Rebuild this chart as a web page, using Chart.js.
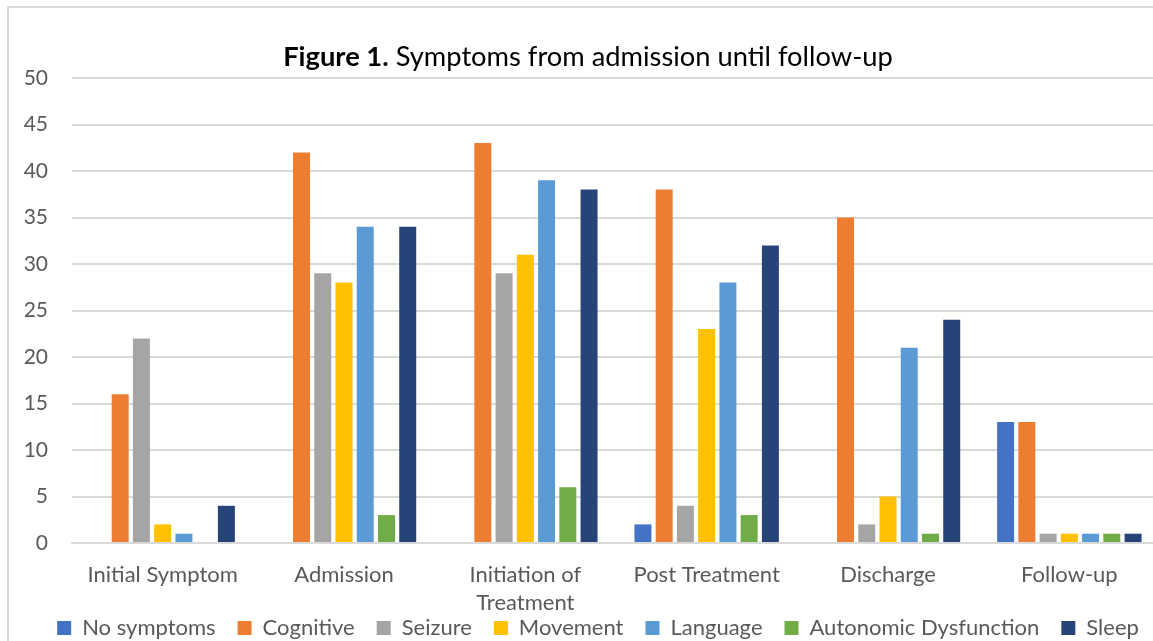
<!DOCTYPE html>
<html>
<head>
<meta charset="utf-8">
<script src="https://cdn.jsdelivr.net/npm/chart.js@4.4.1/dist/chart.umd.min.js"></script>
<style>
  html, body { margin: 0; padding: 0; background: #fff; width: 1153px; height: 641px; overflow: hidden; }
  #frame { position: absolute; left: 7px; top: 6px; width: 1200px; height: 700px; border: 2px solid #d9d9d9; box-sizing: border-box; }
  #wrap { position: absolute; left: -20px; top: 0; width: 1180px; height: 641px; }
</style>
</head>
<body>
<div id="frame"></div>
<div id="wrap"><canvas id="chart" width="1180" height="641"></canvas></div>
<script>
// Stages of care along the x axis
const categories = ["Initial Symptom", "Admission", ["Initiation of", "Treatment"], "Post Treatment", "Discharge", "Follow-up"];

// Number of patients with each symptom group at every stage
const noSymptoms = [0, 0, 0, 2, 0, 13];
const cognitive  = [16, 42, 43, 38, 35, 13];
const seizure    = [22, 29, 29, 4, 2, 1];
const movement   = [2, 28, 31, 23, 5, 1];
const language   = [1, 34, 39, 28, 21, 1];
const autonomic  = [0, 3, 6, 3, 1, 1];
const sleep      = [4, 34, 38, 32, 24, 1];

const seriesNames  = ["No symptoms", "Cognitive", "Seizure", "Movement", "Language", "Autonomic Dysfunction", "Sleep"];
const seriesValues = [noSymptoms, cognitive, seizure, movement, language, autonomic, sleep];
const seriesColors = ["#4472C4", "#ED7D31", "#A5A5A5", "#FFC000", "#5B9BD5", "#70AD47", "#264478"];

const yMin = 0, yMax = 50, yStep = 5;

const titleBold = "Figure 1.";
const titleRest = " Symptoms from admission until follow-up";

const FONT = "Lato, 'Open Sans', sans-serif";
const LEGEND_PAD = 22;
const LEGEND_FONT = 22;

// Title with a bold lead-in followed by regular text
const mixedTitle = {
  id: "mixedTitle",
  afterDraw(chart) {
    const ctx = chart.ctx;
    ctx.save();
    ctx.textBaseline = "middle";
    ctx.textAlign = "left";
    ctx.fillStyle = "#000";
    ctx.font = "bold 27.3px " + FONT;
    const wb = ctx.measureText(titleBold).width;
    ctx.font = "27.3px " + FONT;
    const wr = ctx.measureText(titleRest).width;
    const cx = 608, cy = 57;
    const x = cx - (wb + wr) / 2;
    ctx.font = "bold 27.3px " + FONT;
    ctx.fillText(titleBold, x, cy);
    ctx.font = "27.3px " + FONT;
    ctx.fillText(titleRest, x + wb, cy);
    ctx.restore();
  }
};

// Pull the legend row up under the axis labels and centre it on the frame
const legendPlacement = {
  id: "legendPlacement",
  afterLayout(chart) {
    const lg = chart.legend;
    const h = lg.bottom - lg.top;
    const top = 628 - LEGEND_PAD - LEGEND_FONT / 2;
    lg.top = top;
    lg.bottom = top + h;
    lg.left += 28;
    lg.right += 28;
  }
};

new Chart(document.getElementById("chart"), {
  type: "bar",
  data: {
    labels: categories,
    datasets: seriesNames.map((name, i) => ({
      label: name,
      data: seriesValues[i],
      backgroundColor: seriesColors[i],
      borderWidth: 0,
      categoryPercentage: 0.82,
      barPercentage: 0.8
    }))
  },
  options: {
    responsive: false,
    animation: false,
    devicePixelRatio: 1,
    layout: { padding: { top: 78, left: 0, right: 0, bottom: -36 } },
    plugins: {
      title: { display: false },
      tooltip: { enabled: false },
      legend: {
        position: "bottom",
        labels: {
          boxWidth: 14,
          boxHeight: 14,
          padding: LEGEND_PAD,
          color: "#595959",
          font: { family: FONT, size: LEGEND_FONT }
        }
      }
    },
    scales: {
      x: {
        grid: { display: false },
        border: { color: "#d9d9d9", width: 2 },
        ticks: {
          color: "#595959",
          padding: 10,
          maxRotation: 0,
          autoSkip: false,
          font: { family: FONT, size: 22, lineHeight: 1.27 }
        },
        afterFit(scale) { scale.height = 80; }
      },
      y: {
        min: yMin,
        max: yMax,
        grid: { color: "#d9d9d9", lineWidth: 2, drawTicks: false },
        border: { display: false },
        ticks: {
          stepSize: yStep,
          color: "#595959",
          padding: 24,
          font: { family: FONT, size: 21 }
        },
        afterFit(scale) { scale.width = 92; }
      }
    }
  },
  plugins: [mixedTitle, legendPlacement]
});
</script>
</body>
</html>
